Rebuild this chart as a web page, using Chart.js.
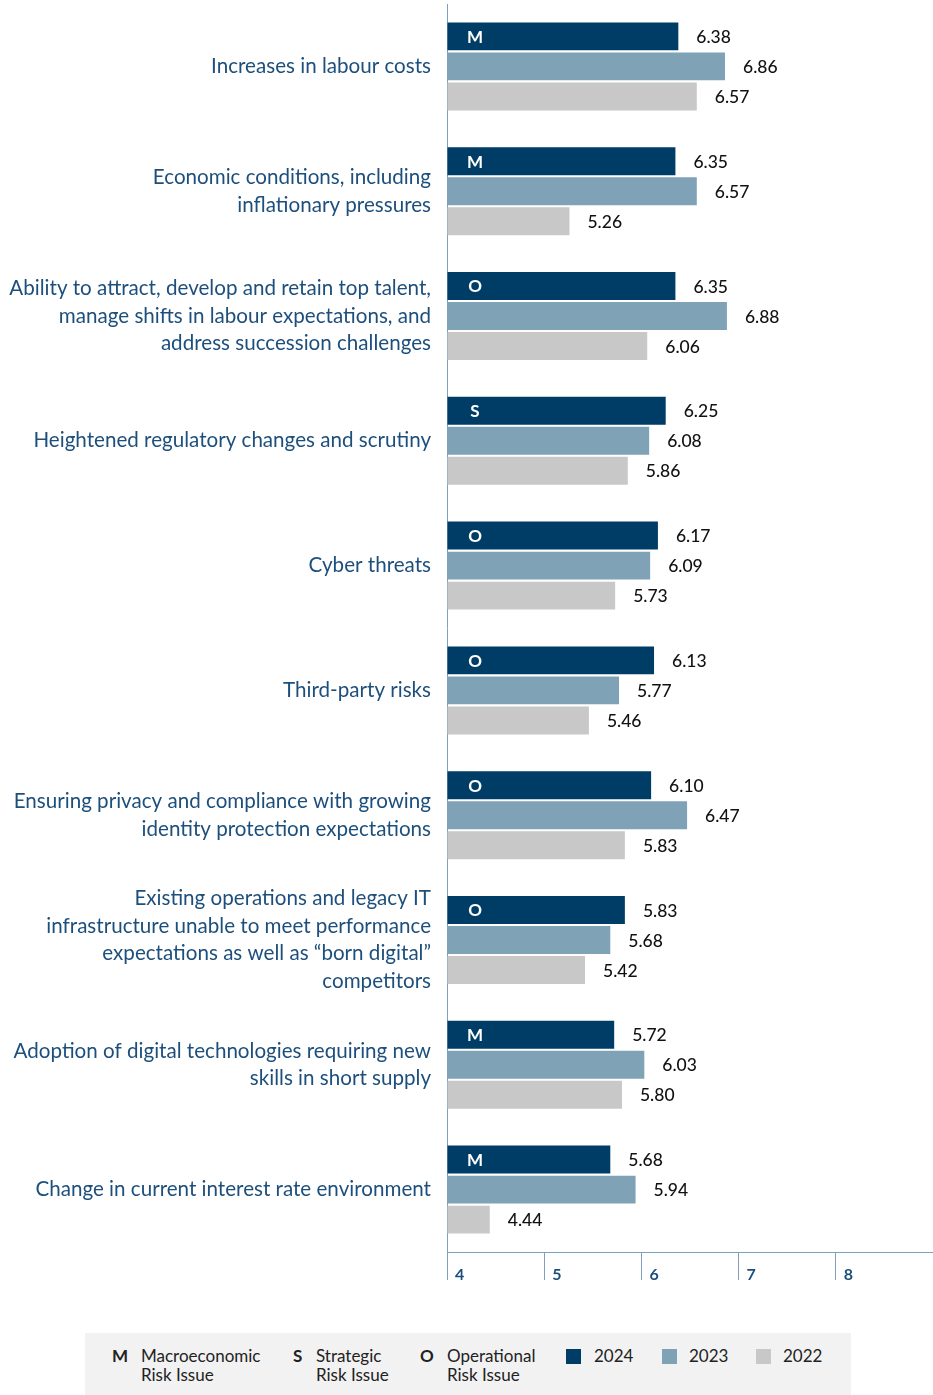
<!DOCTYPE html>
<html>
<head>
<meta charset="utf-8">
<script src="https://cdn.jsdelivr.net/npm/chart.js@4.4.1/dist/chart.umd.min.js"></script>
<style>
  body { margin: 0; background: #fff; font-family: Lato, "Noto Sans", sans-serif; }
  #wrap { position: relative; width: 933px; height: 1300px; }
  #legend {
    position: absolute; left: 85px; top: 1333px; width: 766px; height: 62px;
    background: #f2f2f2; font-size: 17px; color: #222; line-height: 19px;
  }
  .item { position: absolute; top: 13px; }
  .code { position: absolute; top: 13px; font-weight: bold; }
  .sq { position: absolute; top: 16px; width: 15px; height: 15px; }
</style>
</head>
<body>
<div id="wrap"><canvas id="myChart"></canvas></div>
<div id="legend">
  <span class="code" style="left:27px">M</span>
  <span class="item" style="left:56px">Macroeconomic<br>Risk Issue</span>
  <span class="code" style="left:208px">S</span>
  <span class="item" style="left:231px">Strategic<br>Risk Issue</span>
  <span class="code" style="left:335px">O</span>
  <span class="item" style="left:362px">Operational<br>Risk Issue</span>
  <span class="sq" style="left:481px;background:#003d66"></span>
  <span class="item" style="left:509px">2024</span>
  <span class="sq" style="left:577px;background:#80a2b7"></span>
  <span class="item" style="left:604px">2023</span>
  <span class="sq" style="left:671px;background:#c8c8c8"></span>
  <span class="item" style="left:698px">2022</span>
</div>
<script>
'use strict';
let categories = [
  'Increases in labour costs',
  ['Economic conditions, including', 'inflationary pressures'],
  ['Ability to attract, develop and retain top talent,', 'manage shifts in labour expectations, and', 'address succession challenges'],
  'Heightened regulatory changes and scrutiny',
  'Cyber threats',
  'Third-party risks',
  ['Ensuring privacy and compliance with growing', 'identity protection expectations'],
  ['Existing operations and legacy IT', 'infrastructure unable to meet performance', 'expectations as well as \u201cborn digital\u201d', 'competitors'],
  ['Adoption of digital technologies requiring new', 'skills in short supply'],
  'Change in current interest rate environment'
];
let riskCodes = ['M', 'M', 'O', 'S', 'O', 'O', 'O', 'O', 'M', 'M'];
let values2024 = [6.38, 6.35, 6.35, 6.25, 6.17, 6.13, 6.10, 5.83, 5.72, 5.68];
let values2023 = [6.86, 6.57, 6.88, 6.08, 6.09, 5.77, 6.47, 5.68, 6.03, 5.94];
let values2022 = [6.57, 5.26, 6.06, 5.86, 5.73, 5.46, 5.83, 5.42, 5.80, 4.44];
let xTicks = [4, 5, 6, 7, 8];

const labelBlue = '#1d4f7c';

// value labels + risk letters on the 2024 bars
const barLabels = {
  id: 'barLabels',
  afterDatasetsDraw(chart) {
    const ctx = chart.ctx;
    ctx.save();
    chart.data.datasets.forEach(function (ds, di) {
      const meta = chart.getDatasetMeta(di);
      meta.data.forEach(function (bar, i) {
        ctx.fillStyle = '#111';
        ctx.font = '500 17.5px Lato';
        ctx.textAlign = 'left';
        ctx.textBaseline = 'middle';
        ctx.fillText(ds.data[i].toFixed(2), bar.x + 18, bar.y + 1);
        if (di === 0) {
          ctx.fillStyle = '#fff';
          ctx.font = 'bold 17px Lato';
          ctx.textAlign = 'center';
          ctx.fillText(riskCodes[i], chart.chartArea.left + 28, bar.y + 1);
        }
      });
    });
    ctx.restore();
  }
};

const ctx = document.getElementById('myChart').getContext('2d');
const myChart = new Chart(ctx, {
  type: 'bar',
  data: {
    labels: categories,
    datasets: [
      { label: '2024', data: values2024, backgroundColor: '#003d66', base: 4 },
      { label: '2023', data: values2023, backgroundColor: '#80a2b7', base: 4 },
      { label: '2022', data: values2022, backgroundColor: '#c8c8c8', base: 4 }
    ]
  },
  options: {
    indexAxis: 'y',
    responsive: true,
    maintainAspectRatio: false,
    animation: false,
    layout: { padding: { top: 4, right: 0, left: 0, bottom: 0 } },
    datasets: { bar: { categoryPercentage: 0.722, barPercentage: 0.93 } },
    plugins: { legend: { display: false }, tooltip: { enabled: false } },
    scales: {
      x: {
        min: 4,
        max: 9,
        afterBuildTicks: function (scale) {
          scale.ticks = xTicks.map(function (v) { return { value: v }; });
        },
        afterFit: function (scale) { scale.height = 48; scale.paddingLeft = 0; scale.paddingRight = 0; },
        grid: { drawOnChartArea: false, drawTicks: true, tickLength: 28, color: '#7f9fbd', lineWidth: 1 },
        border: { display: true, color: '#7f9fbd' },
        ticks: {
          align: 'start',
          labelOffset: 8,
          padding: -15,
          color: labelBlue,
          font: { family: 'Lato', size: 16, weight: 'bold' }
        }
      },
      y: {
        afterFit: function (scale) { scale.width = 447; scale.paddingTop = 0; scale.paddingBottom = 0; },
        grid: { display: false, drawTicks: false },
        border: { display: true, color: '#7f9fbd' },
        ticks: {
          padding: 16,
          color: labelBlue,
          font: { family: 'Lato', size: 20.6, lineHeight: 1.345 }
        }
      }
    }
  },
  plugins: [barLabels]
});
</script>
</body>
</html>
